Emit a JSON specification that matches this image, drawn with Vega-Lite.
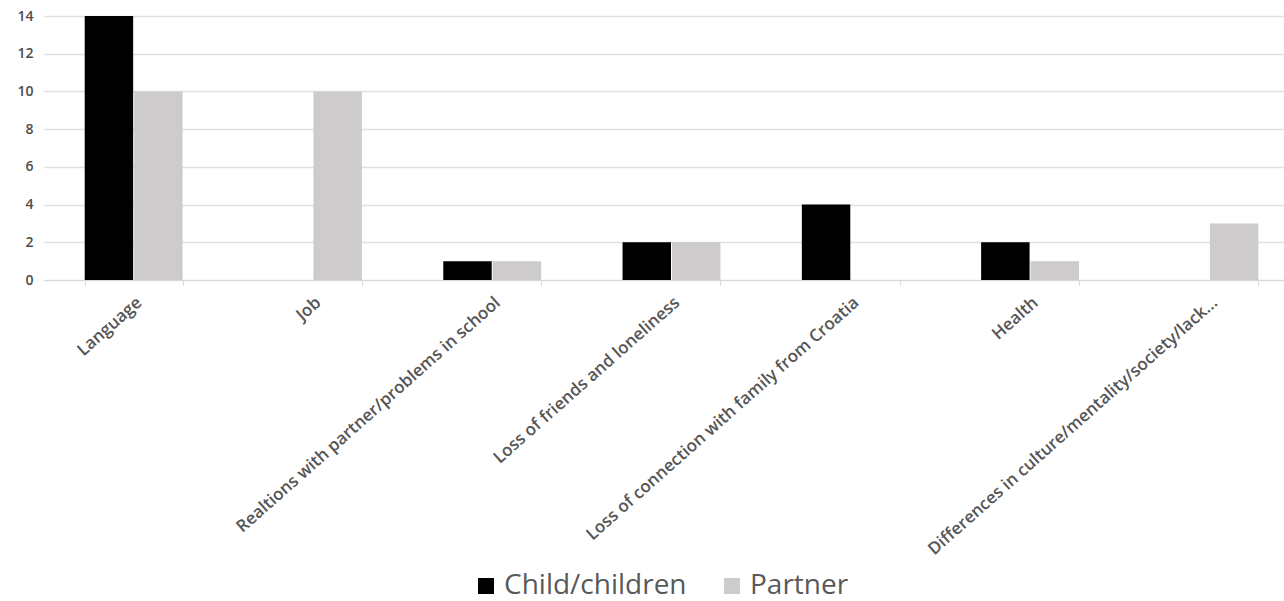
{
  "$schema": "https://vega.github.io/schema/vega-lite/v6.json",
  "width": 1240,
  "height": 264,
  "autosize": {"type": "none"},
  "padding": {"left": 44, "top": 16, "right": 0, "bottom": 321},
  "background": "white",
  "config": {
    "view": {"stroke": null},
    "font": "Open Sans"
  },
  "data": {
    "values": [
      {"issue": "Language", "group": "Child/children", "count": 14},
      {"issue": "Language", "group": "Partner", "count": 10},
      {"issue": "Job", "group": "Child/children", "count": 0},
      {"issue": "Job", "group": "Partner", "count": 10},
      {"issue": "Realtions with partner/problems in school", "group": "Child/children", "count": 1},
      {"issue": "Realtions with partner/problems in school", "group": "Partner", "count": 1},
      {"issue": "Loss of friends and loneliness", "group": "Child/children", "count": 2},
      {"issue": "Loss of friends and loneliness", "group": "Partner", "count": 2},
      {"issue": "Loss of connection with family from Croatia", "group": "Child/children", "count": 4},
      {"issue": "Loss of connection with family from Croatia", "group": "Partner", "count": 0},
      {"issue": "Health", "group": "Child/children", "count": 2},
      {"issue": "Health", "group": "Partner", "count": 1},
      {"issue": "Differences in culture/mentality/society/lack...", "group": "Child/children", "count": 0},
      {"issue": "Differences in culture/mentality/society/lack...", "group": "Partner", "count": 3}
    ]
  },
  "mark": {"type": "bar"},
  "encoding": {
    "x": {
      "field": "issue",
      "type": "nominal",
      "sort": null,
      "title": null,
      "scale": {"range": [0, 1255], "paddingInner": 0.454, "paddingOuter": 0.227},
      "axis": {
        "labelAngle": -41.5,
        "labelFontSize": 17,
        "labelFontWeight": 600,
        "labelColor": "#555555",
        "labelPadding": 9,
        "labelLimit": 500,
        "domainColor": "#d9d9d9",
        "tickColor": "#d9d9d9",
        "tickSize": 5,
        "tickBand": "extent",
        "grid": false
      }
    },
    "xOffset": {
      "field": "group",
      "type": "nominal",
      "scale": {"paddingInner": 0.02, "paddingOuter": 0}
    },
    "y": {
      "field": "count",
      "type": "quantitative",
      "title": null,
      "scale": {"domain": [0, 14], "nice": false},
      "axis": {
        "values": [0, 2, 4, 6, 8, 10, 12, 14],
        "domain": false,
        "ticks": false,
        "labelFontSize": 14,
        "labelFontWeight": 600,
        "labelColor": "#4d4d4d",
        "labelPadding": 11,
        "gridColor": "#e0e0e0",
        "gridWidth": 1.5
      }
    },
    "color": {
      "field": "group",
      "type": "nominal",
      "title": null,
      "scale": {"domain": ["Child/children", "Partner"], "range": ["#000000", "#cdcbcb"]},
      "legend": {
        "orient": "none",
        "direction": "horizontal",
        "legendX": 428,
        "legendY": 556,
        "symbolType": "square",
        "symbolSize": 256,
        "symbolStrokeWidth": 0,
        "labelFontSize": 28,
        "labelColor": "#595959",
        "labelOffset": 4,
        "columnPadding": 31,
        "labelLimit": 300
      }
    }
  }
}
